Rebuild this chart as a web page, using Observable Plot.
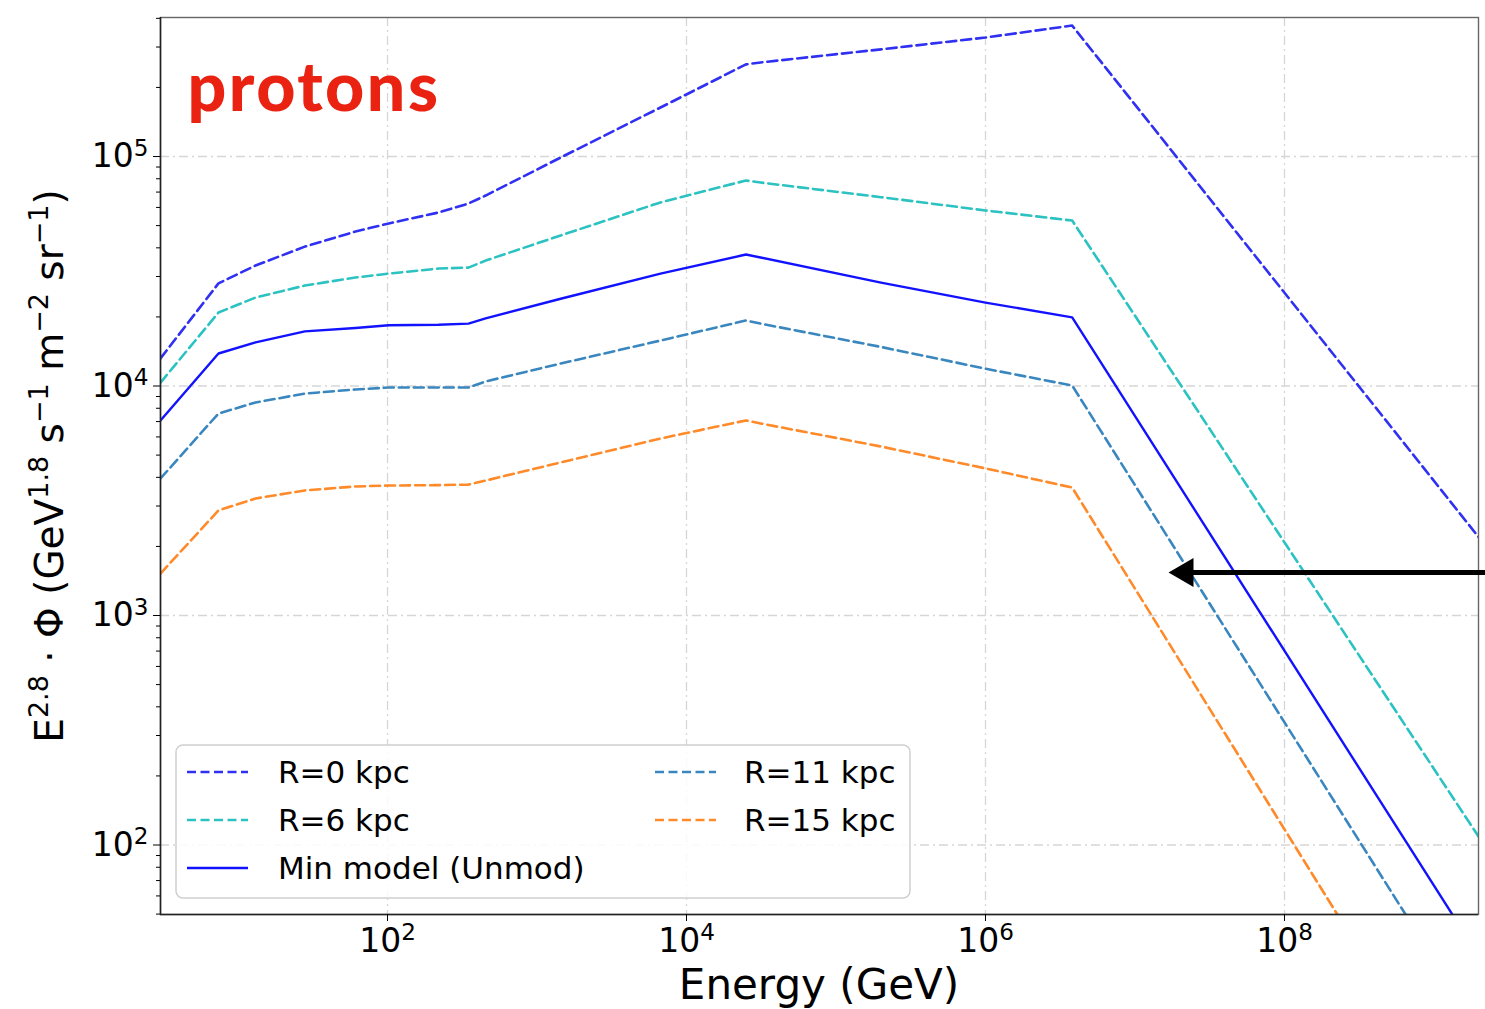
<!DOCTYPE html>
<html><head><meta charset="utf-8">
<script src="https://cdn.jsdelivr.net/npm/d3@7"></script>
<script src="https://cdn.jsdelivr.net/npm/@observablehq/plot@0.6"></script>
<style>
html,body{margin:0;padding:0;background:#fff;}
#chart{position:relative;width:1485px;height:1009px;overflow:hidden;}
</style></head><body><div id="chart"></div>
<script>
// ---- data ----
const energyGeV = [3.03, 7.4, 13.1, 28, 61, 102, 219, 348, 453, 1440, 6700, 25000, 31300, 2.0e5, 1.0e6, 3.8e6, 1.985e9];
const valuesR0  = [13200, 28000, 33500, 40500, 47100, 51100, 57000, 62400, 67600, 99000, 163500, 252000, 257000, 293000, 330000, 372000, 2200];
const valuesR6  = [10350, 20900, 24300, 27400, 29700, 30900, 32500, 32800, 35200, 45300, 63100, 78600, 77000, 66500, 58200, 52600, 109];
const valuesMin = [7080, 13860, 15500, 17300, 17900, 18400, 18500, 18700, 19700, 24000, 30900, 37400, 36300, 28200, 23100, 19900, 33];
const valuesR11 = [3955, 7590, 8480, 9270, 9660, 9850, 9850, 9850, 10470, 12530, 15780, 19300, 18700, 14800, 11900, 10050, 15.6];
const valuesR15 = [1524, 2870, 3236, 3508, 3650, 3685, 3700, 3720, 3873, 4645, 5905, 7080, 6870, 5450, 4375, 3610, 5.1];

const seriesNames  = ["R=0 kpc", "R=6 kpc", "Min model (Unmod)", "R=11 kpc", "R=15 kpc"];
const seriesValues = [valuesR0, valuesR6, valuesMin, valuesR11, valuesR15];
const seriesDashed = [true, true, false, true, true];
const seriesColors = ["#3030f2", "#2cc2c2", "#1212ff", "#3a87bf", "#ff8a2a"];

const xMajorTicks = [1e2, 1e4, 1e6, 1e8];
const yMajorTicks = [1e2, 1e3, 1e4, 1e5];
const yMinorTicks = [];
for (let k = 1; k <= 5; k++) for (let m = 2; m <= 9; m++) { const v = m * 10 ** k; if (v >= 50 && v <= 4.0e5) yMinorTicks.push(v); }

const xDomain = [3.03, 1.985e9];
const yDomain = [49.8, 4.034e5];

// annotation arrow
const arrowTipE = 1.675e7;
const arrowShaftE = [2.2e7, 2.21e9];
const arrowV = 1540;

// ---- table ----
const rows = [];
seriesNames.forEach((name, s) => seriesValues[s].forEach((v, i) => rows.push({name, E: energyGeV[i], V: v, dashed: seriesDashed[s]})));

const expFmt = d => "10^" + Math.round(Math.log10(d));
const gridStyle = {stroke: "#d6d6d6", strokeOpacity: 1, strokeWidth: 1.3, strokeDasharray: "9,4,2,4"};

const plot = Plot.plot({
  width: 1485, height: 1009,
  marginLeft: 160, marginRight: 7, marginTop: 17, marginBottom: 95,
  style: {fontFamily: "DejaVu Sans", background: "white", overflow: "visible", color: "#000"},
  x: {type: "log", domain: xDomain},
  y: {type: "log", domain: yDomain},
  color: {domain: seriesNames, range: seriesColors},
  marks: [
    Plot.gridX(xMajorTicks, gridStyle),
    Plot.gridY(yMajorTicks, gridStyle),
    Plot.line(rows.filter(d => d.dashed), {x: "E", y: "V", z: "name", stroke: "name", strokeWidth: 2.6, strokeDasharray: "10,5", clip: true}),
    Plot.line(rows.filter(d => !d.dashed), {x: "E", y: "V", z: "name", stroke: "name", strokeWidth: 2.4, clip: true}),
    Plot.frame({stroke: "#666", strokeWidth: 1.4}),
    Plot.ruleX([xDomain[0]], {stroke: "#222", strokeWidth: 1.5}),
    Plot.ruleY([yDomain[0]], {stroke: "#222", strokeWidth: 1.5}),
    Plot.axisX(xMajorTicks, {tickSize: 7, tickPadding: 7, fontSize: 33, tickFormat: expFmt, label: null}),
    Plot.axisY(yMajorTicks, {tickSize: 7, tickPadding: 5, fontSize: 33, tickFormat: expFmt, label: null}),
    Plot.axisY(yMinorTicks, {tickSize: 4, tickFormat: () => "", label: null}),
    Plot.text(["protons"], {frameAnchor: "top-left", dx: 27, dy: 93, lineAnchor: "bottom", textAnchor: "start",
      fontSize: 68, fontWeight: 900, fontFamily: "Lato", fill: "#ea2212"}),
    Plot.link([{E1: arrowShaftE[0], E2: arrowShaftE[1], V: arrowV}], {x1: "E1", x2: "E2", y1: "V", y2: "V", stroke: "#000", strokeWidth: 5}),
    Plot.dot([{E: arrowTipE, V: arrowV}], {x: "E", y: "V", symbol: "triangle", r: 10.7, fill: "#000", stroke: "none", rotate: -90, dx: 16.7})
  ]
});

document.getElementById("chart").appendChild(plot);
const svg = d3.select(plot);

// widen the "protons" label a little
svg.selectAll('g[aria-label="text"] text').filter(function () { return d3.select(this).text() === "protons"; })
  .attr("letter-spacing", 2.5);

// superscript tick labels
svg.selectAll('g[aria-label="y-axis tick label"] text, g[aria-label="x-axis tick label"] text').each(function () {
  const t = d3.select(this);
  const m = (t.text() || "").match(/^10\^(.+)$/);
  if (!m) return;
  t.text(null);
  t.append("tspan").text("10");
  t.append("tspan").attr("font-size", "0.7em").attr("dy", "-0.5em").text(m[1]);
});

// axis titles
svg.append("text").attr("x", 819).attr("y", 999).attr("text-anchor", "middle")
  .attr("font-size", 42).attr("font-family", "DejaVu Sans").attr("fill", "#000").text("Energy (GeV)");

const yl = svg.append("text").attr("transform", "translate(63,466) rotate(-90)")
  .attr("text-anchor", "middle").attr("font-size", 39).attr("font-family", "DejaVu Sans").attr("fill", "#000");
const parts = [["E", 0], ["2.8", 1], [" · Φ (GeV", 0], ["1.8", 1], [" s", 0], ["−1", 1], [" m", 0], ["−2", 1], [" sr", 0], ["−1", 1], [")", 0]];
let raised = false;
parts.forEach(([s, sup]) => {
  const ts = yl.append("tspan").text(s);
  if (sup) { ts.attr("font-size", 27).attr("dy", raised ? 0 : -15); raised = true; }
  else { ts.attr("dy", raised ? 15 : 0); raised = false; }
});

// legend
const lg = svg.append("g").attr("font-family", "DejaVu Sans").attr("font-size", 31).attr("text-anchor", "start");
lg.append("rect").attr("x", 176).attr("y", 745).attr("width", 734).attr("height", 153).attr("rx", 7)
  .attr("fill", "#fff").attr("fill-opacity", 0.85).attr("stroke", "#d0d0d0").attr("stroke-width", 1.5);
const legendSlots = [[0, 0], [0, 1], [0, 2], [1, 0], [1, 1]];
seriesNames.forEach((name, i) => {
  const [col, row] = legendSlots[i];
  const y = 772 + row * 48;
  const x0 = col ? 655 : 187;
  lg.append("line").attr("x1", x0).attr("x2", x0 + 61).attr("y1", y).attr("y2", y)
    .attr("stroke", seriesColors[i]).attr("stroke-width", 2.4)
    .attr("stroke-dasharray", seriesDashed[i] ? "9,4.5" : null);
  lg.append("text").attr("x", col ? 744 : 278).attr("y", y + 11).attr("text-anchor", "start").attr("fill", "#000").text(name);
});
</script></body></html>
